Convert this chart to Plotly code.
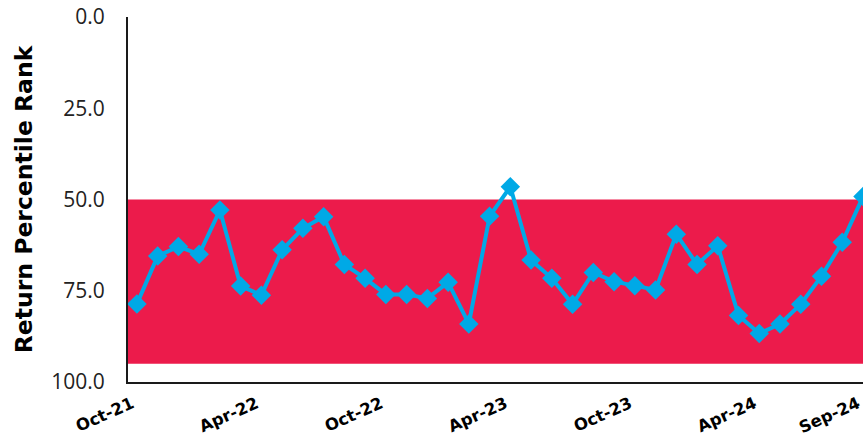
import plotly.graph_objects as go

months = ["Oct-21","Nov-21","Dec-21","Jan-22","Feb-22","Mar-22","Apr-22","May-22","Jun-22","Jul-22","Aug-22","Sep-22",
          "Oct-22","Nov-22","Dec-22","Jan-23","Feb-23","Mar-23","Apr-23","May-23","Jun-23","Jul-23","Aug-23","Sep-23",
          "Oct-23","Nov-23","Dec-23","Jan-24","Feb-24","Mar-24","Apr-24","May-24","Jun-24","Jul-24","Aug-24","Sep-24"]
rank = [78.6, 65.5, 62.9, 65.0, 52.9, 73.7, 76.2, 63.8, 57.9, 54.7, 67.8, 71.6,
        76.0, 76.0, 77.1, 72.7, 84.1, 54.6, 46.5, 66.6, 71.6, 78.7, 70.0, 72.5,
        73.6, 74.8, 59.5, 67.8, 62.7, 81.8, 86.7, 84.1, 78.7, 71.0, 61.7, 49.2]
band_low, band_high = 50, 95
tick_labels = ["Oct-21", "Apr-22", "Oct-22", "Apr-23", "Oct-23", "Apr-24", "Sep-24"]
y_ticks = [0, 25, 50, 75, 100]

x = list(range(len(months)))
tick_idx = [months.index(t) for t in tick_labels]

fig = go.Figure()
fig.add_shape(type="rect", xref="paper", yref="y", x0=0, x1=1, y0=band_low, y1=band_high,
              fillcolor="#EC1B4B", line_width=0, layer="below")
fig.add_trace(go.Scatter(x=x, y=rank, mode="lines+markers",
                         line=dict(color="#00A9E6", width=4),
                         marker=dict(symbol="diamond", size=15, color="#00A9E6"),
                         hoverinfo="skip"))
fig.update_layout(
    width=863, height=437,
    margin=dict(l=128, r=0, t=17, b=55, autoexpand=False),
    plot_bgcolor="white", paper_bgcolor="white",
    showlegend=False,
)
fig.update_xaxes(range=[-0.43, 35.0001], tickvals=tick_idx, ticktext=tick_labels, tickangle=-24,
                 showgrid=False, zeroline=False, showline=True, linecolor="#1a1a1a", linewidth=2,
                 ticks="", automargin=False, ticklabelstandoff=4, ticklabeloverflow="allow",
                 ticklabelshift=-5,
                 tickfont=dict(family="DejaVu Sans", size=16.5, color="black", weight="bold"))
fig.update_yaxes(range=[100, 0], tickvals=y_ticks, tickformat=".1f",
                 showgrid=False, zeroline=False, showline=True, linecolor="#1a1a1a", linewidth=2,
                 ticks="", ticklabelstandoff=17, automargin=False, ticklabeloverflow="allow",
                 tickfont=dict(family="Open Sans", size=21, color="#222"),
                 title=dict(text="Return Percentile Rank", standoff=12,
                            font=dict(family="DejaVu Sans", size=23.5, color="black", weight="bold")))
fig.write_html("out.html", config={"displayModeBar": False},
               post_script="document.body.style.margin='0';document.body.style.overflow='hidden';")
